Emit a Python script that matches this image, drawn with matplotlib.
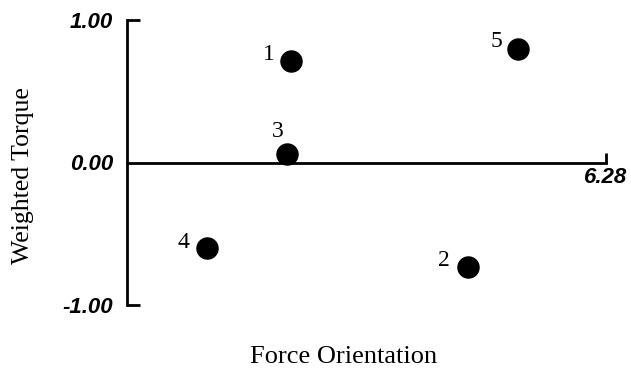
import matplotlib
matplotlib.use("Agg")
from matplotlib import pyplot as plt

# point data
labels = ["1", "2", "3", "4", "5"]
orientation = [2.15, 4.47, 2.10, 1.05, 5.13]
torque = [0.71, -0.73, 0.06, -0.60, 0.80]
# label offsets (points) relative to each point
label_dx = [-16, -17, -7, -17, -16]
label_dy = [5, 4, 16, 4, 5]

fig = plt.figure(figsize=(6.31, 3.72), dpi=100)
ax = fig.add_axes([127 / 631, 1 - 305 / 372, (606 - 127) / 631, (305 - 20) / 372])

ax.set_xlim(0, 6.28)
ax.set_ylim(-1, 1)

for s in ["top", "right"]:
    ax.spines[s].set_visible(False)
ax.spines["left"].set_linewidth(2)
ax.spines["bottom"].set_linewidth(2)
ax.spines["bottom"].set_position(("data", 0))

tick_font = dict(family="Liberation Sans", weight="bold", style="italic", size=16)
ax.set_yticks([-1, 0, 1])
ax.set_yticklabels(["-1.00", "0.00", "1.00"], **tick_font)
ax.set_xticks([6.28])
ax.set_xticklabels(["6.28"], **tick_font)
ax.tick_params(axis="y", direction="in", length=9, width=2, pad=10)
ax.tick_params(axis="x", direction="in", length=7, width=2, pad=3)
# no tick mark at zero on the y axis
ax.yaxis.get_major_ticks()[1].tick1line.set_visible(False)

ax.scatter(orientation, torque, s=230, color="black", zorder=3, clip_on=False)
for lab, x, y, dx, dy in zip(labels, orientation, torque, label_dx, label_dy):
    ax.annotate(lab, (x, y), xytext=(dx, dy), textcoords="offset points",
                ha="center", va="center", family="Liberation Serif", size=17)

fig.text(23 / 631, 1 - 176 / 372, "Weighted Torque", rotation=90, ha="center", va="center",
         family="Liberation Serif", size=18.5)
fig.text(344 / 631, 1 - 357 / 372, "Force Orientation", ha="center", va="center",
         family="Liberation Serif", size=19)

fig.savefig("out.png", dpi=100)
